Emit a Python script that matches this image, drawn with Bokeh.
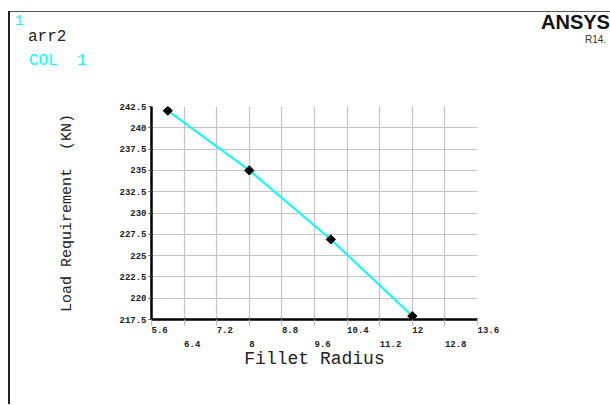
import math
from bokeh.plotting import figure
from bokeh.models import Range1d, FixedTicker, LinearAxis, Div
from bokeh.layouts import column
from bokeh.embed import file_html
from bokeh.resources import INLINE

# ---- data ----
radius = [6, 8, 10, 12]
load = [242.0, 235.0, 226.9, 217.9]

x_ticks_row1 = [5.6, 7.2, 8.8, 10.4, 12, 13.6]
x_labels_row1 = ["5.6", "7.2", "8.8", "10.4", "12", "13.6"]
x_ticks_row2 = [6.4, 8, 9.6, 11.2, 12.8]
x_labels_row2 = ["6.4", "8", "9.6", "11.2", "12.8"]

y_ticks = [217.5, 220, 222.5, 225, 227.5, 230, 232.5, 235, 237.5, 240, 242.5]
y_labels = ["217.5", "220", "222.5", "225", "227.5", "230", "232.5", "235",
            "237.5", "240", "242.5"]

NB = "\u00a0"
x_title = "Fillet Radius"
y_title = "Load Requirement" + NB + NB + "(KN)"
series_name = "arr2"
col_name = "COL&nbsp;&nbsp;1"
window_no = "1"
brand = "ANSYS"
release = "R14."

CYAN = "#00FFFF"
MONO = "Liberation Mono"


def _k(v):
    return int(v) if float(v).is_integer() else v


def _left(lbl):
    # pad so that a centred label starts at its tick (mono font)
    return NB * len(lbl) + lbl


# ---- header (window number, label texts, brand) ----
header_html = f"""
<div style="position:relative;width:610px;height:95px;overflow:hidden;margin:0;padding:0;">
  <div style="position:absolute;left:10px;top:11px;width:600px;height:1px;background:#555;"></div>
  <div style="position:absolute;left:8px;top:11px;width:2px;height:84px;background:#222;"></div>
  <span style="position:absolute;left:15px;top:14px;font:14px/14px '{MONO}';color:{CYAN};white-space:pre;">{window_no}</span>
  <span style="position:absolute;left:28px;top:29px;font:16px/16px '{MONO}';color:#222;white-space:pre;">{series_name}</span>
  <span style="position:absolute;left:29px;top:53px;font:16px/16px '{MONO}';color:{CYAN};white-space:pre;">{col_name}</span>
  <span style="position:absolute;left:541px;top:12px;font:bold 20px/20px 'Liberation Sans';color:#111;white-space:pre;">{brand}</span>
  <span style="position:absolute;left:585px;top:35px;font:10px/10px 'Liberation Sans';color:#333;white-space:pre;">{release}</span>
</div>
"""
header = Div(text=header_html, width=610, height=95, margin=0)

# ---- plot ----
p = figure(width=600, height=309, output_backend="svg", toolbar_location=None,
           x_range=Range1d(5.6, 13.6), y_range=Range1d(217.5, 242.5),
           min_border_left=141, min_border_right=133,
           min_border_top=11, min_border_bottom=85,
           outline_line_color=None, margin=0)
p.styles = {"margin-left": "8px", "border-left": "2px solid #222222"}

all_x = sorted(x_ticks_row1 + x_ticks_row2)
p.xaxis.ticker = FixedTicker(ticks=all_x)
p.yaxis.ticker = FixedTicker(ticks=y_ticks)
p.grid.grid_line_color = "#c4c4c4"
p.grid.grid_line_width = 1.2

# primary x axis: every tick mark, first row of labels
ov1 = {_k(t): "" for t in x_ticks_row2}
ov1.update({_k(t): _left(l) for t, l in zip(x_ticks_row1, x_labels_row1)})
xa = p.xaxis[0]
xa.major_label_overrides = ov1
xa.axis_line_color = "black"
xa.axis_line_width = 2.5
xa.major_tick_line_color = "#b8b8b8"
xa.major_tick_line_width = 1.2
xa.major_tick_out = 6
xa.major_tick_in = 0
xa.minor_tick_line_color = None
xa.major_label_standoff = 0
xa.major_label_text_font = MONO
xa.major_label_text_font_style = "bold"
xa.major_label_text_font_size = "9px"
xa.major_label_text_color = "#222222"

# second x axis: staggered second row of labels and the title
xb = LinearAxis(ticker=FixedTicker(ticks=x_ticks_row2),
                major_label_overrides={_k(t): _left(l) for t, l in zip(x_ticks_row2, x_labels_row2)},
                axis_line_color=None, major_tick_line_color=None,
                minor_tick_line_color=None, major_tick_out=0, major_tick_in=0,
                major_label_standoff=1, major_label_text_font=MONO,
                major_label_text_font_style="bold",
                major_label_text_font_size="9px",
                major_label_text_color="#222222",
                axis_label=x_title, axis_label_standoff=-4,
                axis_label_text_font=MONO, axis_label_text_font_style="normal",
                axis_label_text_font_size="18px",
                axis_label_text_color="#222222")
p.add_layout(xb, "below")

# y axis
ya = p.yaxis[0]
ya.major_label_overrides = {_k(t): l for t, l in zip(y_ticks, y_labels)}
ya.axis_line_color = "black"
ya.axis_line_width = 2.5
ya.major_tick_line_color = "#555555"
ya.major_tick_out = 3
ya.major_tick_in = 0
ya.minor_tick_line_color = None
ya.major_label_standoff = 2
ya.major_label_text_font = MONO
ya.major_label_text_font_style = "bold"
ya.major_label_text_font_size = "9px"
ya.major_label_text_color = "#222222"
ya.axis_label = y_title
ya.axis_label_standoff = 40
ya.axis_label_text_font = MONO
ya.axis_label_text_font_style = "normal"
ya.axis_label_text_font_size = "15px"
ya.axis_label_text_color = "#222222"

# data
p.line(radius, load, line_color=CYAN, line_width=2)
p.scatter(radius, load, marker="square", angle=math.pi / 4, size=6.5,
          fill_color="black", line_color="black", line_width=1)

layout = column(header, p, spacing=0, margin=0)
open("out.html", "w").write(file_html(layout, INLINE))
